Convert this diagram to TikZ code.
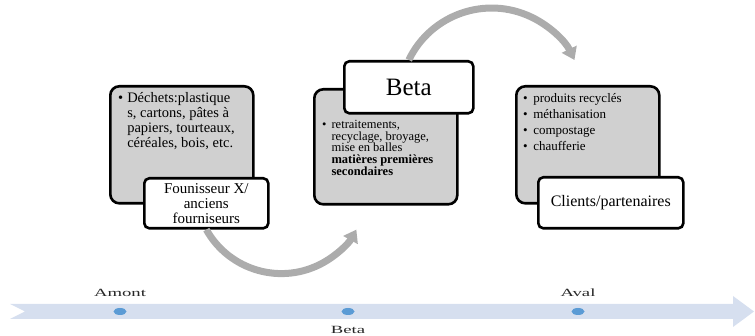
\documentclass[tikz,border=0pt]{standalone}
\usepackage{fontspec}
\setmainfont{Liberation Serif}
\usepackage{xcolor}
\usetikzlibrary{arrows.meta,positioning,calc,shapes.geometric}
\definecolor{boxgray}{RGB}{208,208,208}
\definecolor{flowgray}{RGB}{172,172,172}
\definecolor{bandblue}{RGB}{214,223,239}
\definecolor{dotblue}{RGB}{91,155,213}
\newcommand{\puce}{\textbullet}

\begin{document}
\begin{tikzpicture}[
    x=1pt, y=1pt,
    graybox/.style={draw, line width=2.6pt, fill=boxgray, rounded corners=9pt,
        minimum width=143pt, minimum height=117pt, anchor=north west, inner sep=0pt},
    whitebox/.style={draw, line width=2.6pt, fill=white, rounded corners=5pt,
        anchor=north west, inner sep=0pt, align=center},
    liste/.style={anchor=north west, inner sep=0pt, align=left},
    flow/.style={-{Triangle[width=16pt,length=12pt]}, line width=7pt, flowgray},
    dot/.style={ellipse, fill=dotblue, minimum width=13pt, minimum height=7pt, inner sep=0pt},
    axislabel/.style={inner sep=0pt, xscale=1.7, text=black!85, font=\fontsize{11}{12}\selectfont}
]
\useasboundingbox (0,0) rectangle (755,336);
\renewcommand{\arraystretch}{1}

% fournisseurs
\node[graybox] (dech) at (109,251) {};
\node[liste, font=\fontsize{14.5}{15}\selectfont] (dechtxt) at ($(dech.north west)+(9,-7)$)
    {\begin{tabular}{@{}l@{\hspace{4pt}}l@{}}
     \puce & Déchets:plastique\\
           & s, cartons, pâtes à\\
           & papiers, tourteaux,\\
           & céréales, bois, etc.
     \end{tabular}};
\node[whitebox, minimum width=124pt, minimum height=50pt, font=\fontsize{15}{15}\selectfont]
    (forn) at (143,159) {Founisseur X/\\anciens\\fourniseurs};

% Beta
\node[graybox, minimum height=115pt] (proc) at (313,248) {};
\node[liste, font=\fontsize{12.5}{10}\selectfont] (proctxt) at ($(proc.north west)+(9,-32)$)
    {\begin{tabular}{@{}l@{\hspace{5pt}}l@{}}
     \puce & retraitements,\\
           & recyclage, broyage,\\
           & mise en balles\\
           & \textbf{matières premières}\\
           & \textbf{secondaires}
     \end{tabular}};
\node[whitebox, minimum width=129pt, minimum height=52pt, font=\fontsize{25}{30}\selectfont]
    (beta) at (343,276) {Beta};

% clients
\node[graybox] (aval) at (515,251) {};
\node[liste, font=\fontsize{13}{16}\selectfont] (avaltxt) at ($(aval.north west)+(8,-6)$)
    {\begin{tabular}{@{}l@{\hspace{5.5pt}}l@{}}
     \puce & produits recyclés\\
     \puce & méthanisation\\
     \puce & compostage\\
     \puce & chaufferie
     \end{tabular}};
\node[whitebox, minimum width=145pt, minimum height=51pt, font=\fontsize{16}{18}\selectfont]
    (clients) at (537,160) {Clients/partenaires};

% fleches courbes
\draw[flow] (forn.south) arc[start angle=209.25, end angle=330.75, radius=86];
\draw[flow] (beta.north) arc[start angle=154.2, end angle=25.8, radius=92];

% axe amont - aval
\fill[bandblue] (10,17) -- (733,17) -- (733,9) -- (754,24.5) -- (733,40)
    -- (733,32) -- (10,32) -- (25,24.5) -- cycle;
\node[dot] (pamont) at (120,24.5) {};
\node[dot] (pbeta) at (348,24.5) {};
\node[dot] (paval) at (578,24.5) {};
\node[axislabel, above=11pt of pamont] (lamont) {Amont};
\node[axislabel, above=11pt of paval] (laval) {Aval};
\node[axislabel, below=11pt of pbeta] (lbeta) {Beta};

\end{tikzpicture}
\end{document}
